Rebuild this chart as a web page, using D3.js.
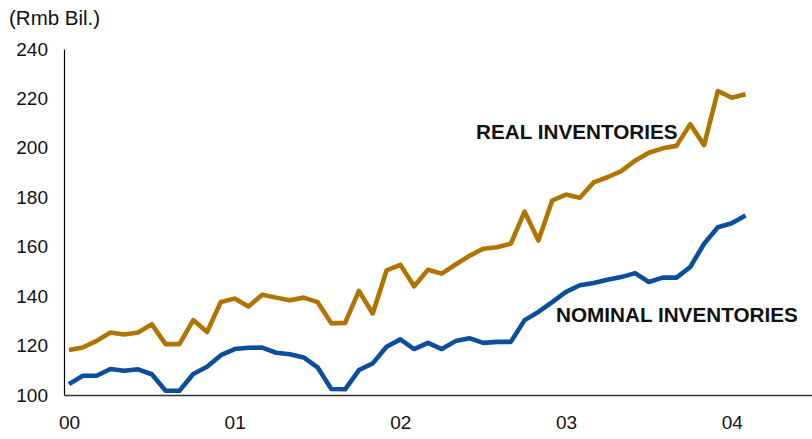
<!DOCTYPE html>
<html>
<head>
<meta charset="utf-8">
<script src="https://cdn.jsdelivr.net/npm/d3@7"></script>
<style>
  html, body { margin: 0; padding: 0; background: #fff; }
  svg { display: block; font-family: "Liberation Sans", Arial, sans-serif; }
</style>
</head>
<body>
<svg id="chart" width="812" height="439"></svg>
<script>
// Monthly inventories, Jan 2000 – Feb 2004 (Rmb billion)
const realInventories = [
  118.2, 119.2, 121.9, 125.3, 124.5, 125.3, 128.6, 120.6, 120.6, 130.3,
  125.5, 137.6, 139.0, 135.8, 140.6, 139.4, 138.3, 139.4, 137.6, 129.0,
  129.2, 142.1, 133.0, 150.4, 152.7, 144.0, 150.7, 149.1, 152.8, 156.3,
  159.2, 159.8, 161.2, 174.2, 162.5, 178.7, 181.1, 179.8, 186.0, 188.1,
  190.6, 194.8, 198.0, 199.8, 200.8, 209.6, 201.1, 223.0, 220.3, 221.7
];

const nominalInventories = [
  104.4, 107.8, 107.8, 110.5, 109.8, 110.4, 108.4, 101.7, 101.7, 108.5,
  111.4, 116.1, 118.6, 119.1, 119.2, 117.1, 116.5, 115.2, 111.2, 102.4,
  102.3, 110.1, 112.8, 119.5, 122.5, 118.6, 121.1, 118.6, 121.8, 123.0,
  121.1, 121.5, 121.5, 130.3, 133.6, 137.6, 141.7, 144.4, 145.3, 146.6,
  147.7, 149.3, 145.7, 147.5, 147.5, 151.8, 161.2, 167.9, 169.5, 172.6
];

const yTicks = [100, 120, 140, 160, 180, 200, 220, 240];
const yearTicks = [0, 12, 24, 36, 48];          // January of each year
const yearLabels = ["00", "01", "02", "03", "04"];

const svg = d3.select("#chart");

const axisLeftX = 64, axisRightX = 812;
const firstX = 69, lastX = 745.5;
const step = (lastX - firstX) / 49;

const x = d3.scaleLinear()
  .domain([(axisLeftX - firstX) / step, (axisRightX - firstX) / step])
  .range([axisLeftX, axisRightX]);

const y = d3.scaleLinear().domain([100, 240]).range([395, 49]);

// y axis
const yAxis = d3.axisLeft(y)
  .tickValues(yTicks)
  .tickSize(0)
  .tickPadding(16)
  .tickFormat(d3.format("d"));

const gy = svg.append("g")
  .attr("transform", `translate(${axisLeftX},0)`)
  .call(yAxis);
gy.select(".domain").attr("stroke", "#000").attr("stroke-width", 1.2);
gy.selectAll("text").attr("font-size", 19).attr("fill", "#111")
  .attr("font-family", "Liberation Sans, Arial, sans-serif");

// x axis
const xAxis = d3.axisBottom(x)
  .tickValues(yearTicks)
  .tickSize(0)
  .tickPadding(21)
  .tickFormat((d, i) => yearLabels[i]);

const gx = svg.append("g")
  .attr("transform", `translate(0,${y(100)})`)
  .call(xAxis);
gx.select(".domain").attr("stroke", "#333").attr("stroke-width", 1.5);
gx.selectAll("text").attr("font-size", 19).attr("fill", "#111")
  .attr("font-family", "Liberation Sans, Arial, sans-serif");

// unit label
svg.append("text")
  .attr("x", 9).attr("y", 25)
  .attr("font-size", 20.5)
  .attr("fill", "#111")
  .text("(Rmb Bil.)");

const line = d3.line()
  .x((d, i) => x(i))
  .y(d => y(d))
  .curve(d3.curveLinear);

svg.append("path")
  .datum(realInventories)
  .attr("d", line)
  .attr("fill", "none")
  .attr("stroke", "#B07400")
  .attr("stroke-width", 4.6)
  .attr("stroke-linejoin", "round");

svg.append("path")
  .datum(nominalInventories)
  .attr("d", line)
  .attr("fill", "none")
  .attr("stroke", "#0B4F9C")
  .attr("stroke-width", 4.6)
  .attr("stroke-linejoin", "round");

// series labels
svg.append("text")
  .attr("x", 476).attr("y", 138.5)
  .attr("font-size", 20.7).attr("font-weight", "bold")
  .attr("fill", "#111")
  .text("REAL INVENTORIES");

svg.append("text")
  .attr("x", 556).attr("y", 322)
  .attr("font-size", 20.7).attr("font-weight", "bold")
  .attr("fill", "#111")
  .text("NOMINAL INVENTORIES");
</script>
</body>
</html>
